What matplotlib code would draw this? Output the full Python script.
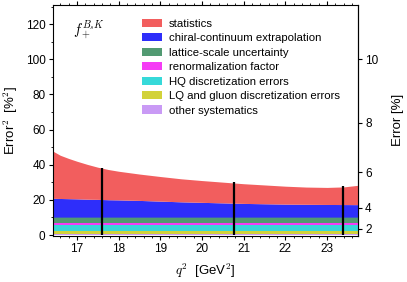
import numpy as np
import matplotlib
matplotlib.use("Agg")
import matplotlib.pyplot as plt

plt.rcParams["font.family"] = ["Liberation Sans", "DejaVu Sans"]
plt.rcParams["mathtext.fontset"] = "cm"

# q^2 grid [GeV^2] and per-source Error^2 contributions [%^2]
q2 = [16.42, 16.6, 16.8, 17.0, 17.25, 17.5, 17.75, 18.0, 18.5, 19.0, 19.5,
      20.0, 20.5, 21.0, 21.5, 22.0, 22.5, 23.0, 23.4, 23.74]
stat = [26.9, 24.6, 22.9, 21.4, 19.8, 18.3, 17.2, 16.3, 15.0, 14.0, 13.1,
        12.4, 11.8, 11.2, 10.7, 10.2, 9.8, 9.7, 10.05, 11.0]
chiral = [10.7, 10.6, 10.5, 10.4, 10.2, 10.1, 9.9, 9.8, 9.5, 9.1, 8.7,
          8.4, 8.1, 7.8, 7.6, 7.4, 7.3, 7.2, 7.15, 7.1]
scale_err = 3.6
renorm = 1.1
hq_disc = 3.3
lq_disc = 1.7
other = 0.5

# simulation q^2 points with total error^2
sim_q2 = [17.6, 20.77, 23.37]
sim_err2 = [38.0, 30.0, 27.8]

labels = ["other systematics", "LQ and gluon discretization errors",
          "HQ discretization errors", "renormalization factor",
          "lattice-scale uncertainty", "chiral-continuum extrapolation",
          "statistics"]
colors = ["#c99af5", "#d2d23a", "#36d9d9", "#f53cf5", "#529a72",
          "#2e2efa", "#f25e5e"]

x = np.array(q2)
n = len(x)
layers = [np.full(n, other), np.full(n, lq_disc), np.full(n, hq_disc),
          np.full(n, renorm), np.full(n, scale_err), np.array(chiral),
          np.array(stat)]

fig = plt.figure(figsize=(4.07, 2.82), dpi=100)
ax = fig.add_axes([0.1295, 0.164, 0.7501, 0.819])

base = np.zeros(n)
handles = []
for vals, col, lab in zip(layers, colors, labels):
    h = ax.fill_between(x, base, base + vals, color=col, lw=0, label=lab)
    handles.append(h)
    base = base + vals

ax.vlines(sim_q2, 0, sim_err2, color="black", lw=1.6)

ax.set_xlim(16.42, 23.74)
ax.set_ylim(-0.4, 131)
ax.set_xticks(range(17, 24))
ax.set_xticks(np.arange(16.6, 23.75, 0.2), minor=True)
ax.set_yticks(range(0, 121, 20))
ax.set_yticks(range(0, 131, 10), minor=True)
ax.tick_params(axis="both", which="major", direction="out", length=2.6,
               width=0.8, labelsize=8.5, pad=2.5)
ax.tick_params(axis="both", which="minor", direction="out", length=1.4,
               width=0.6)
ax.tick_params(axis="x", top=True, which="both")
ax.tick_params(axis="x", labeltop=False)
for s in ax.spines.values():
    s.set_linewidth(0.8)

ax.set_xlabel(r"$q^2$  [GeV$^2$]", fontsize=9.5, labelpad=5)
ax.set_ylabel(r"Error$^2$  [%$^2$]", fontsize=9.5, labelpad=4)

sec = ax.secondary_yaxis("right", functions=(lambda v: np.sqrt(np.clip(v, 0, None)),
                                               lambda v: np.square(v)))
sec.set_yticks([2, 4, 6, 8, 10])
sec.tick_params(direction="out", length=2.6, width=0.8, labelsize=8.5, pad=2.5)
sec.set_ylabel("Error [%]", fontsize=9.5, labelpad=10)

ax.text(0.065, 0.94, r"$f_+^{B_sK}$", transform=ax.transAxes,
        fontsize=10.5, va="top", ha="left")

leg = ax.legend(handles[::-1], labels[::-1], loc="upper left",
                bbox_to_anchor=(0.292, 0.94), fontsize=8.2, frameon=False,
                handlelength=1.75, handleheight=0.75, labelspacing=0.38,
                handletextpad=0.6, borderaxespad=0, borderpad=0)

fig.savefig("out.png", dpi=100)
plt.close(fig)
